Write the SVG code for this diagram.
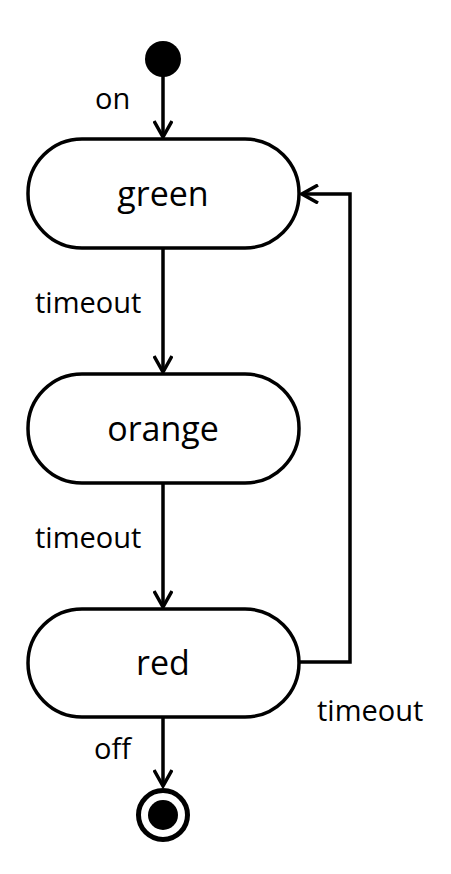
<svg xmlns="http://www.w3.org/2000/svg" width="451" height="874" viewBox="0 0 451 874">
<style>
.st{fill:#fff;stroke:#000;stroke-width:3.5}
.ln{fill:none;stroke:#000;stroke-width:3.5}
.t{font-family:"Open Sans","Noto Sans","Liberation Sans",sans-serif;fill:#000}
.sn{font-size:34px;text-anchor:middle}
.lb{font-size:29px}
</style>
<defs>
<marker id="ah" viewBox="0 0 20 20" refX="18" refY="10" markerWidth="20" markerHeight="20" markerUnits="userSpaceOnUse" orient="auto">
<path d="M2,1 L18,10 L2,19" fill="none" stroke="#000" stroke-width="3.5"/>
</marker>
</defs>
<g id="connectors">
<line class="ln" x1="163" y1="76" x2="163" y2="137" marker-end="url(#ah)"/>
<line class="ln" x1="163" y1="249" x2="163" y2="372" marker-end="url(#ah)"/>
<line class="ln" x1="163" y1="484" x2="163" y2="607" marker-end="url(#ah)"/>
<line class="ln" x1="163" y1="718" x2="163" y2="786" marker-end="url(#ah)"/>
<polyline class="ln" points="300,662 350,662 350,194 302,194" marker-end="url(#ah)"/>
<text class="t lb" x="95" y="109">on</text>
<text class="t lb" x="35" y="313">timeout</text>
<text class="t lb" x="35" y="548">timeout</text>
<text class="t lb" x="94" y="759">off</text>
<text class="t lb" x="317" y="721">timeout</text>
</g>
<g id="initial"><circle cx="163" cy="59" r="18" fill="#000"/></g>
<g id="green"><rect class="st" x="28" y="139" width="271" height="109" rx="54" ry="54"/><text class="t sn" x="163" y="206">green</text></g>
<g id="orange"><rect class="st" x="28" y="374" width="271" height="109" rx="54" ry="54"/><text class="t sn" x="163" y="441">orange</text></g>
<g id="red"><rect class="st" x="28" y="609" width="271" height="108" rx="54" ry="54"/><text class="t sn" x="163" y="675">red</text></g>
<g id="final"><circle cx="163" cy="815" r="24.5" fill="#fff" stroke="#000" stroke-width="5"/><circle cx="163" cy="815" r="15" fill="#000"/></g>
</svg>
